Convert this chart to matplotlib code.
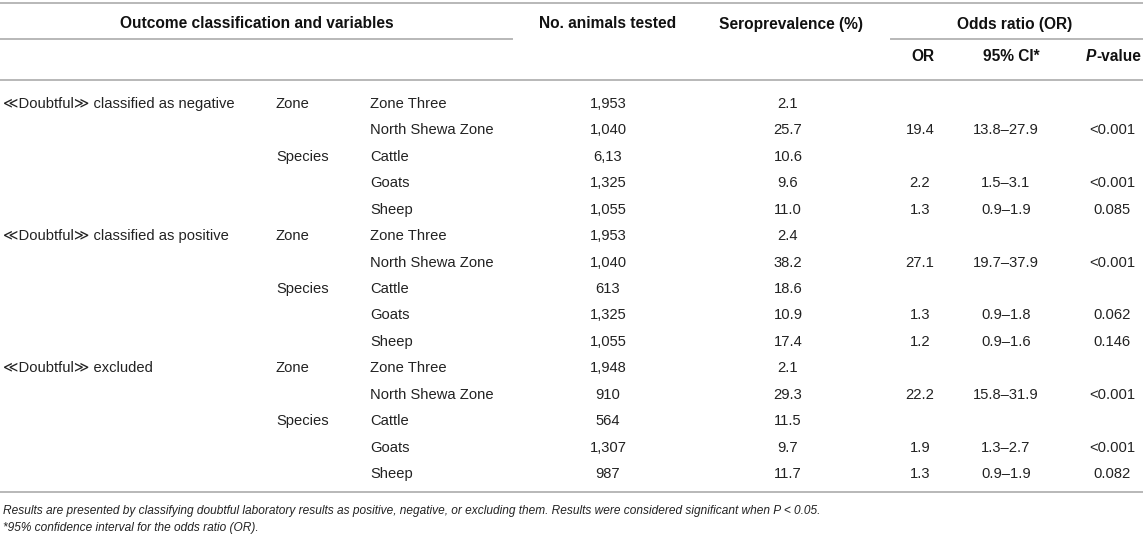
import matplotlib
matplotlib.use("Agg")
import matplotlib.pyplot as plt

# ---------------- data ----------------
groups = ["\u226aDoubtful\u226b classified as negative",
          "\u226aDoubtful\u226b classified as positive",
          "\u226aDoubtful\u226b excluded"]
variables = ["Zone", "Species"]
levels = ["Zone Three", "North Shewa Zone", "Cattle", "Goats", "Sheep"]

n_tested = ["1,953", "1,040", "6,13", "1,325", "1,055",
            "1,953", "1,040", "613", "1,325", "1,055",
            "1,948", "910", "564", "1,307", "987"]
seroprev = ["2.1", "25.7", "10.6", "9.6", "11.0",
            "2.4", "38.2", "18.6", "10.9", "17.4",
            "2.1", "29.3", "11.5", "9.7", "11.7"]
odds_ratio = ["", "19.4", "", "2.2", "1.3",
              "", "27.1", "", "1.3", "1.2",
              "", "22.2", "", "1.9", "1.3"]
ci95 = ["", "13.8\u201327.9", "", "1.5\u20133.1", "0.9\u20131.9",
        "", "19.7\u201337.9", "", "0.9\u20131.8", "0.9\u20131.6",
        "", "15.8\u201331.9", "", "1.3\u20132.7", "0.9\u20131.9"]
p_value = ["", "<0.001", "", "<0.001", "0.085",
           "", "<0.001", "", "0.062", "0.146",
           "", "<0.001", "", "<0.001", "0.082"]

header_top = ["Outcome classification and variables", "No. animals tested",
              "Seroprevalence (%)", "Odds ratio (OR)"]
header_sub = ["OR", "95% CI*"]
footnotes = ["Results are presented by classifying doubtful laboratory results as positive, "
             "negative, or excluding them. Results were considered significant when P < 0.05.",
             "*95% confidence interval for the odds ratio (OR)."]

# ---------------- layout ----------------
W, H = 1143, 541
fig = plt.figure(figsize=(W / 100, H / 100), dpi=100)
ax = fig.add_axes([0, 0, 1, 1])
ax.set_xlim(0, W)
ax.set_ylim(H, 0)
ax.axis("off")

FAM = ["Liberation Sans", "DejaVu Sans"]
BODY = 10.6
HEAD = 11.2
FOOT = 8.6
body_c = "#222222"
head_c = "#111111"
rule_c = "#b8b8b8"

# rules
ax.plot([0, W], [3, 3], color=rule_c, lw=1.4)
ax.plot([0, 512], [39, 39], color=rule_c, lw=1.4)
ax.plot([891, W], [39, 39], color=rule_c, lw=1.4)
ax.plot([0, W], [80, 80], color=rule_c, lw=1.4)
ax.plot([0, W], [492, 492], color=rule_c, lw=1.4)

# headers
top_x = [257, 608, 791, 1015]
for t, x in zip(header_top, top_x):
    ax.text(x, 28.5, t, ha="center", va="baseline", fontsize=HEAD,
            fontweight="bold", family=FAM, color=head_c)
sub_x = [923, 1011]
for t, x in zip(header_sub, sub_x):
    ax.text(x, 61, t, ha="center", va="baseline", fontsize=HEAD,
            fontweight="bold", family=FAM, color=head_c)

# P-value header: italic bold P + bold "-value", centred at 1113
fig.canvas.draw()
r = fig.canvas.get_renderer()
tp = ax.text(0, 61, "P", ha="left", va="baseline", fontsize=HEAD,
             fontweight="bold", fontstyle="italic", family=FAM, color=head_c)
tv = ax.text(0, 61, "-value", ha="left", va="baseline", fontsize=HEAD,
             fontweight="bold", family=FAM, color=head_c)
wp = tp.get_window_extent(r).width
wv = tv.get_window_extent(r).width
x0 = 1113 - (wp + wv) / 2
tp.set_x(x0)
tv.set_x(x0 + wp + 0.5)

# body rows
row0, dy = 108, 26.43
nlev = len(levels)
for i in range(len(n_tested)):
    y = row0 + i * dy
    g, k = divmod(i, nlev)
    if k == 0:
        ax.text(3, y, groups[g], ha="left", va="baseline", fontsize=BODY,
                family=FAM, color=body_c)
        ax.text(276, y, variables[0], ha="left", va="baseline", fontsize=BODY,
                family=FAM, color=body_c)
    if k == 2:
        ax.text(276, y, variables[1], ha="left", va="baseline", fontsize=BODY,
                family=FAM, color=body_c)
    ax.text(370, y, levels[k], ha="left", va="baseline", fontsize=BODY,
            family=FAM, color=body_c)
    for vals, x in ((n_tested, 608), (seroprev, 788), (odds_ratio, 920),
                    (ci95, 1006), (p_value, 1112)):
        if vals[i]:
            ax.text(x, y, vals[i], ha="center", va="baseline", fontsize=BODY,
                    family=FAM, color=body_c)

# footnotes
for j, t in enumerate(footnotes):
    ax.text(3, 514 + j * 17.5, t, ha="left", va="baseline", fontsize=FOOT,
            fontstyle="italic", family=FAM, color=body_c)

fig.savefig("out.png", dpi=100)
